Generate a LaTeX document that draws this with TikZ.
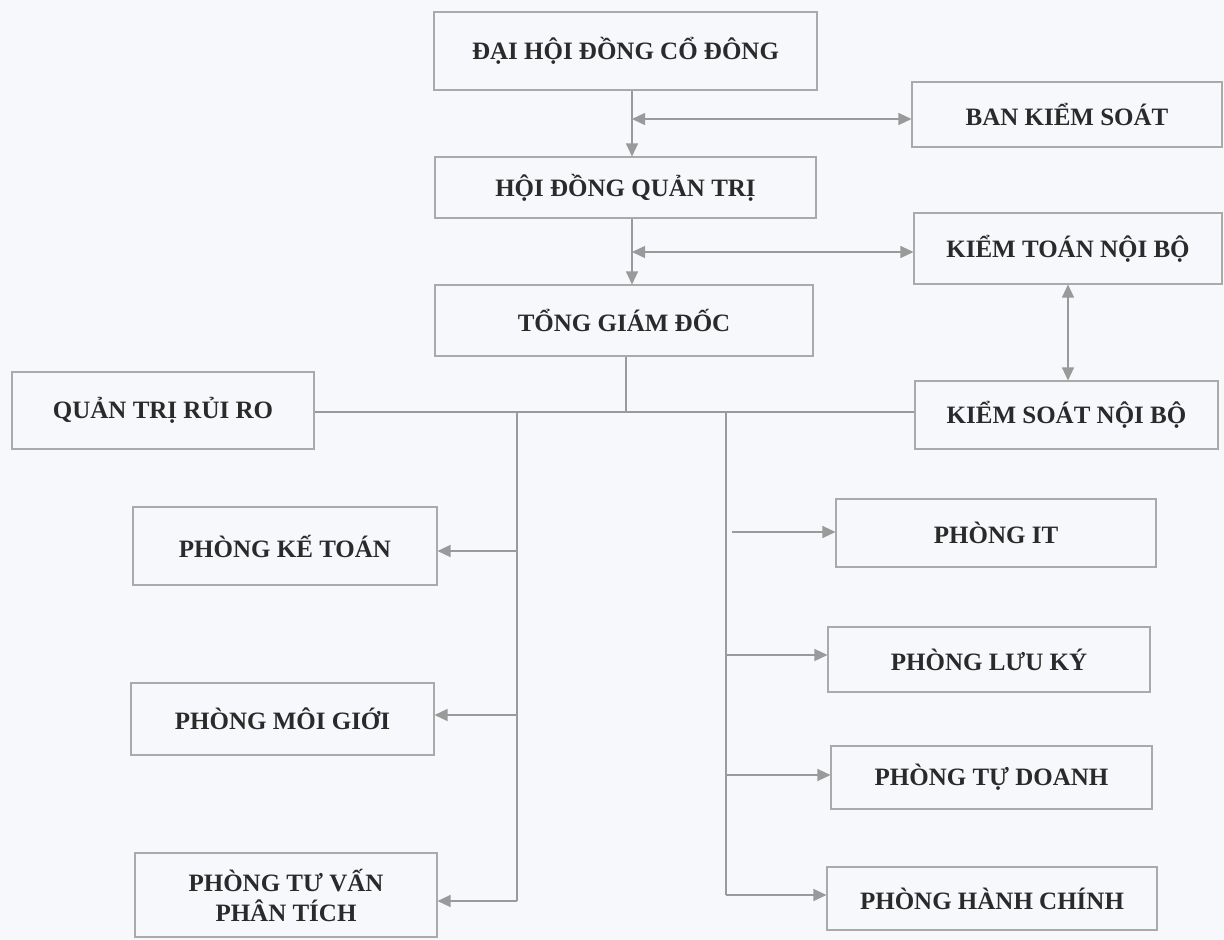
\documentclass[tikz,border=0pt]{standalone}
\usepackage{fontspec}
\setmainfont{Liberation Serif}
\usetikzlibrary{arrows.meta}
\definecolor{bgc}{HTML}{F7F8FB}
\definecolor{lnc}{HTML}{9A9A9A}
\definecolor{bxc}{HTML}{AAAAAA}
\definecolor{txc}{HTML}{2A2A2A}
\tikzset{
  box/.style={draw=bxc, line width=1.1pt, rectangle, inner sep=0pt, align=center,
    text=txc, font=\fontsize{25}{30}\selectfont\bfseries},
  lnk/.style={draw=lnc, line width=1.3pt},
  arr/.style={lnk, -{Triangle[length=13pt,width=12pt]}},
  darr/.style={lnk, {Triangle[length=13pt,width=12pt]}-{Triangle[length=13pt,width=12pt]}}
}
\begin{document}
\begin{tikzpicture}[x=1pt,y=-1pt]
\fill[bgc] (0,0) rectangle (1224,940);
\useasboundingbox (0,0) rectangle (1224,940);

% top chain
\node[box, minimum width=383pt, minimum height=78pt] (dh) at (625.5,51) {ĐẠI HỘI ĐỒNG CỔ ĐÔNG};
\node[box, minimum width=381pt, minimum height=61pt] (hd) at (625.5,187.5) {HỘI ĐỒNG QUẢN TRỊ};
\node[box, minimum width=378pt, minimum height=71pt] (tg) at (624,320.5) {TỔNG GIÁM ĐỐC};

% right control boxes
\node[box, minimum width=310pt, minimum height=65pt] (bks) at (1067,114.5) {BAN KIỂM SOÁT};
\node[box, minimum width=308pt, minimum height=71pt] (ktnb) at (1068,248.5) {KIỂM TOÁN NỘI BỘ};
\node[box, minimum width=303pt, minimum height=68pt] (ksnb) at (1066.5,415) {KIỂM SOÁT NỘI BỘ};

% risk
\node[box, minimum width=302pt, minimum height=77pt] (qt) at (163,410.5) {QUẢN TRỊ RỦI RO};

% left departments
\node[box, minimum width=304pt, minimum height=78pt] (kt) at (285,546) {PHÒNG KẾ TOÁN};
\node[box, minimum width=303pt, minimum height=72pt] (mg) at (282.5,719) {PHÒNG MÔI GIỚI};
\node[box, minimum width=302pt, minimum height=84pt] (tv) at (286,895) {PHÒNG TƯ VẤN\\PHÂN TÍCH};

% right departments
\node[box, minimum width=320pt, minimum height=68pt] (it) at (996,533) {PHÒNG IT};
\node[box, minimum width=322pt, minimum height=65pt] (lk) at (989,659.5) {PHÒNG LƯU KÝ};
\node[box, minimum width=321pt, minimum height=63pt] (td) at (991.5,777.5) {PHÒNG TỰ DOANH};
\node[box, minimum width=330pt, minimum height=63pt] (hc) at (992,898.5) {PHÒNG HÀNH CHÍNH};

% connectors top
\coordinate (t1) at (632,0);
\draw[arr] (dh.south -| t1) -- (hd.north -| t1);
\draw[arr] (hd.south -| t1) -- (tg.north -| t1);
\coordinate (j1) at (632,119);
\draw[darr] (j1) -- (j1 -| bks.west);
\coordinate (j2) at (632,252);
\draw[darr] (j2) -- (j2 -| ktnb.west);
\coordinate (t3) at (1068,0);
\draw[darr] (ktnb.south -| t3) -- (ksnb.north -| t3);

% CEO stem and horizontal bar
\coordinate (h) at (626,412);
\draw[lnk] (tg.south -| h) -- (h);
\draw[lnk] (h -| qt.east) -- (h -| ksnb.west);

% left trunk
\coordinate (L0) at (517,412);
\coordinate (L1) at (517,551);
\coordinate (L2) at (517,715);
\coordinate (L3) at (517,901);
\draw[lnk] (L0) -- (L3);
\draw[arr] (L1) -- (L1 -| kt.east);
\draw[arr] (L2) -- (L2 -| mg.east);
\draw[arr] (L3) -- (L3 -| tv.east);

% right trunk
\coordinate (R0) at (726,412);
\coordinate (R1) at (732,532);
\coordinate (R2) at (726,655);
\coordinate (R3) at (726,775);
\coordinate (R4) at (726,895);
\draw[lnk] (R0) -- (R4);
\draw[arr] (R1) -- (R1 -| it.west);
\draw[arr] (R2) -- (R2 -| lk.west);
\draw[arr] (R3) -- (R3 -| td.west);
\draw[arr] (R4) -- (R4 -| hc.west);
\end{tikzpicture}
\end{document}
